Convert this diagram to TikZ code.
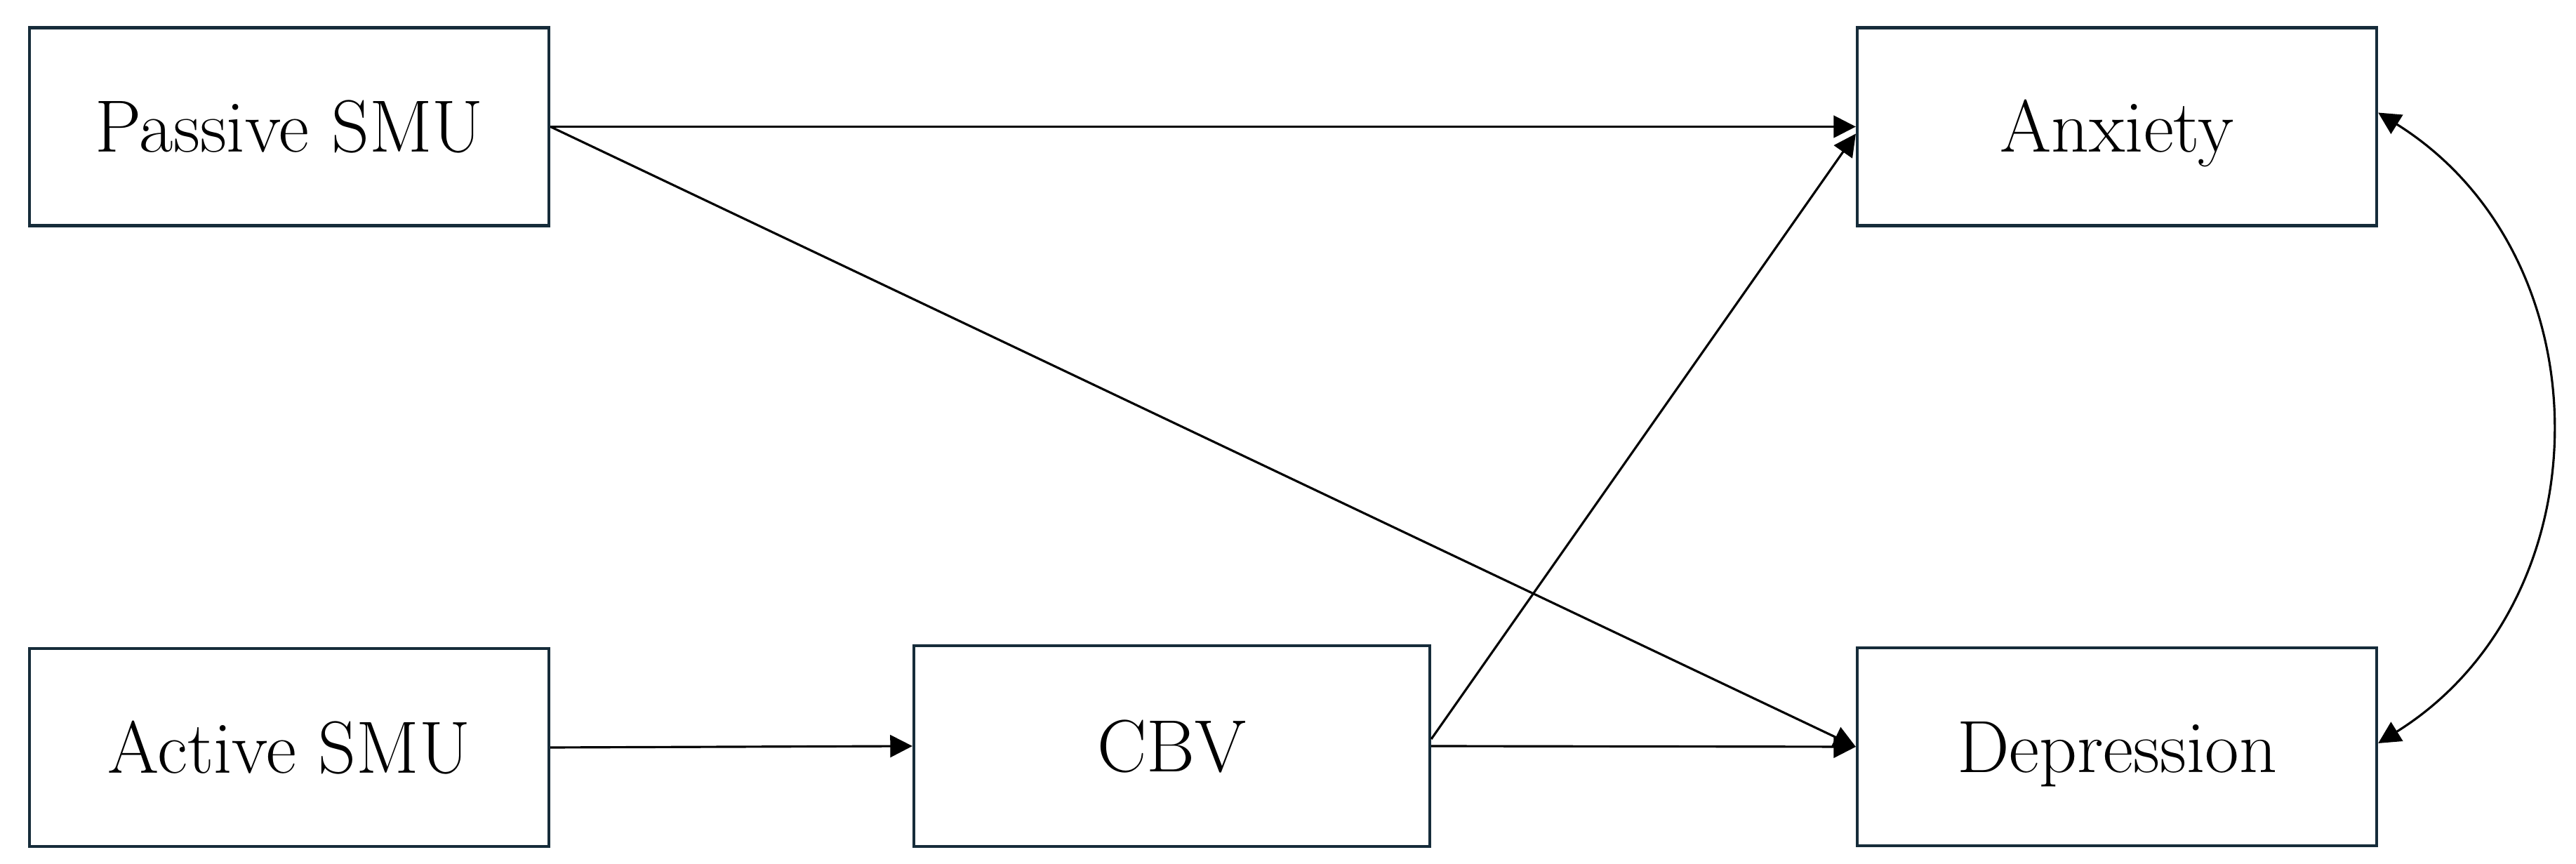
\documentclass[tikz,border=0pt]{standalone}
\usetikzlibrary{arrows.meta}
\definecolor{boxcol}{RGB}{22,44,58}
\begin{document}
\begin{tikzpicture}[
  var/.style={draw=boxcol, line width=1.2pt, fill=white, minimum width=7.4cm, minimum height=2.82cm,
    inner sep=0pt, font=\fontsize{30}{36}\selectfont, text height=20.5pt, text depth=0pt},
  path/.style={line width=0.9pt, -{Triangle[length=9pt,width=9pt]}},
  cov/.style={line width=0.9pt, {Triangle[length=9pt,width=9pt]}-{Triangle[length=9pt,width=9pt]}}
]
\useasboundingbox (0,0) rectangle (36.7,12.3);
\node[var] (pas) at (4.12,10.495) {Passive SMU};
\node[var] (anx) at (30.16,10.495) {Anxiety};
\node[var] (act) at (4.12,1.65) {Active SMU};
\node[var, minimum width=7.35cm, minimum height=2.86cm] (cbv) at (16.695,1.67) {CBV};
\node[var] (dep) at (30.16,1.66) {Depression};
\draw[path] (pas.east) -- (anx.west);
\draw[path] (pas.east) -- (dep.west);
\draw[path] (act.east) -- (cbv.west);
\draw[path] ([yshift=0.1cm]cbv.east) -- ([yshift=-0.1cm]anx.west);
\draw[path] (cbv.east) -- (dep.west);
\draw[cov] ([yshift=0.2cm]anx.east) to[out=-32, in=32, looseness=1.1] ([yshift=0.05cm]dep.east);
\end{tikzpicture}
\end{document}
